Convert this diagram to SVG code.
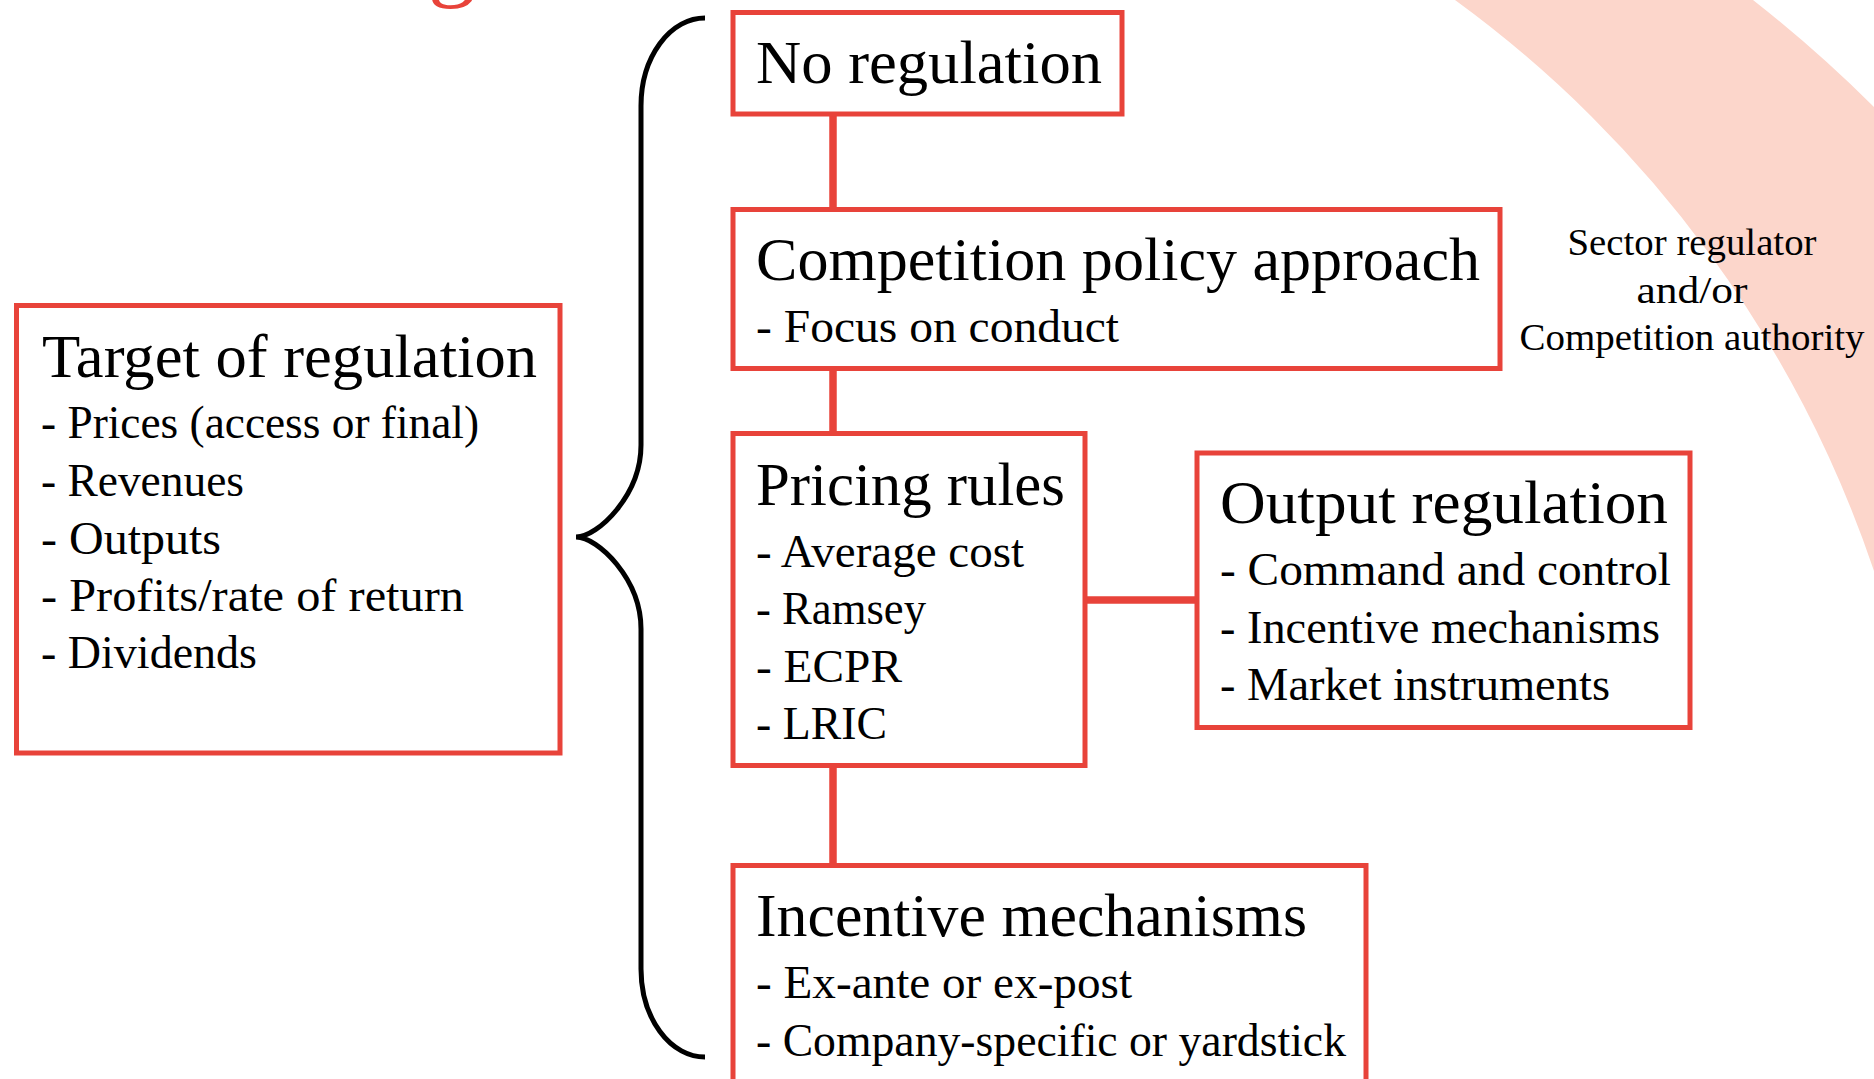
<svg xmlns="http://www.w3.org/2000/svg" width="1874" height="1079" viewBox="0 0 1874 1079">
  <style>
    .box { fill: #ffffff; stroke: #E8433A; stroke-width: 5; }
    .link { fill: none; stroke: #E8433A; stroke-width: 7.5; }
    .brace { fill: none; stroke: #000000; stroke-width: 5; }
    text { font-family: "Liberation Serif", "Times New Roman", serif; fill: #000000; }
    .title { font-size: 62px; }
    .item { font-size: 46px; }
    .note { font-size: 38.5px; text-anchor: middle; }
    .heading { font-size: 96px; fill: #E8433A; }
  </style>

  <!-- page background and decorative band -->
  <rect x="0" y="0" width="1874" height="1079" fill="#ffffff"/>
  <path d="M 1455,0 A 1167 1167 0 0 1 1874,571 L 1874,107 A 1370 1370 0 0 0 1753,0 Z" fill="#FCD6CB"/>

  <!-- lower part of the slide heading, cut by the top edge -->
  <text class="heading" x="428" y="-11">g</text>

  <!-- connectors -->
  <g id="connectors">
    <line class="link" x1="833" y1="114" x2="833" y2="210"/>
    <line class="link" x1="833" y1="368" x2="833" y2="434"/>
    <line class="link" x1="833" y1="765" x2="833" y2="866"/>
    <line class="link" x1="1085" y1="600" x2="1197" y2="600"/>
    <path id="brace" class="brace" d="M 705,18 A 64 88 0 0 0 641,106 L 641,445 C 641,495 598,537 576,537 C 598,537 641,579 641,629 L 641,969 A 64 88 0 0 0 705,1057"/>
  </g>

  <!-- nodes -->
  <g id="no-regulation">
    <rect class="box" x="733" y="12.5" width="389" height="101.5"/>
    <text class="title" x="756" y="83" textLength="346" lengthAdjust="spacingAndGlyphs">No regulation</text>
  </g>

  <g id="competition-policy">
    <rect class="box" x="733" y="209.5" width="767" height="159"/>
    <text class="title" x="756" y="280" textLength="724" lengthAdjust="spacingAndGlyphs">Competition policy approach</text>
    <text class="item" x="756" y="342" textLength="363" lengthAdjust="spacingAndGlyphs">- Focus on conduct</text>
  </g>

  <g id="authority-note">
    <text class="note" x="1692" y="255" textLength="249" lengthAdjust="spacingAndGlyphs">Sector regulator</text>
    <text class="note" x="1692" y="302.5" textLength="111" lengthAdjust="spacingAndGlyphs">and/or</text>
    <text class="note" x="1692" y="350" textLength="345" lengthAdjust="spacingAndGlyphs">Competition authority</text>
  </g>

  <g id="target-of-regulation">
    <rect class="box" x="16.5" y="305.5" width="543.5" height="447.5"/>
    <text class="title" x="42" y="377" textLength="495" lengthAdjust="spacingAndGlyphs">Target of regulation</text>
    <text class="item" x="41" y="438" textLength="438" lengthAdjust="spacingAndGlyphs">- Prices (access or final)</text>
    <text class="item" x="41" y="496" textLength="203" lengthAdjust="spacingAndGlyphs">- Revenues</text>
    <text class="item" x="41" y="554" textLength="180" lengthAdjust="spacingAndGlyphs">- Outputs</text>
    <text class="item" x="41" y="611" textLength="423" lengthAdjust="spacingAndGlyphs">- Profits/rate of return</text>
    <text class="item" x="41" y="668" textLength="216" lengthAdjust="spacingAndGlyphs">- Dividends</text>
  </g>

  <g id="pricing-rules">
    <rect class="box" x="733" y="433.5" width="352" height="332"/>
    <text class="title" x="756" y="505" textLength="309" lengthAdjust="spacingAndGlyphs">Pricing rules</text>
    <text class="item" x="756" y="567" textLength="268" lengthAdjust="spacingAndGlyphs">- Average cost</text>
    <text class="item" x="756" y="624" textLength="170" lengthAdjust="spacingAndGlyphs">- Ramsey</text>
    <text class="item" x="756" y="682" textLength="146" lengthAdjust="spacingAndGlyphs">- ECPR</text>
    <text class="item" x="756" y="739" textLength="131" lengthAdjust="spacingAndGlyphs">- LRIC</text>
  </g>

  <g id="output-regulation">
    <rect class="box" x="1197" y="453" width="493" height="274.5"/>
    <text class="title" x="1220" y="523" textLength="448" lengthAdjust="spacingAndGlyphs">Output regulation</text>
    <text class="item" x="1220" y="585" textLength="451" lengthAdjust="spacingAndGlyphs">- Command and control</text>
    <text class="item" x="1220" y="643" textLength="440" lengthAdjust="spacingAndGlyphs">- Incentive mechanisms</text>
    <text class="item" x="1220" y="700" textLength="390" lengthAdjust="spacingAndGlyphs">- Market instruments</text>
  </g>

  <g id="incentive-mechanisms">
    <rect class="box" x="733" y="865.5" width="633" height="240"/>
    <text class="title" x="756" y="936" textLength="551" lengthAdjust="spacingAndGlyphs">Incentive mechanisms</text>
    <text class="item" x="756" y="998" textLength="376" lengthAdjust="spacingAndGlyphs">- Ex-ante or ex-post</text>
    <text class="item" x="756" y="1056" textLength="590" lengthAdjust="spacingAndGlyphs">- Company-specific or yardstick</text>
  </g>
</svg>
